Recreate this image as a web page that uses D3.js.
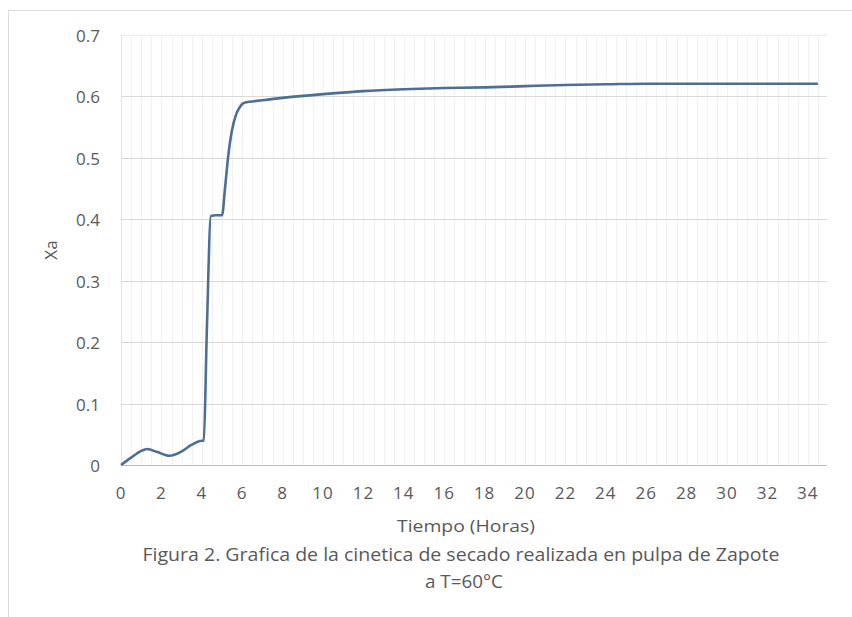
<!DOCTYPE html>
<html>
<head>
<meta charset="utf-8">
<script src="https://cdn.jsdelivr.net/npm/d3@7"></script>
<style>
  body { margin: 0; background: #fff; }
  text { font-family: "Open Sans", "Liberation Sans", sans-serif; }
</style>
</head>
<body>
<div id="chart"></div>
<script>
// Tiempo (horas)
const tiempo = [0, 0.5, 1, 1.3, 1.8, 2.4, 3, 3.5, 3.9, 4.1, 4.25, 4.45, 4.7, 5.0, 5.15, 5.3, 5.5, 5.7, 5.9, 6.1,
  7, 8, 10, 12, 14, 16, 18, 20, 22, 24, 26, 28, 30, 32, 34.5]
// Xa
const xa = [0, 0.012, 0.023, 0.026, 0.021, 0.015, 0.022, 0.033, 0.039, 0.04, 0.22, 0.405, 0.406, 0.406, 0.45, 0.5, 0.545, 0.57, 0.583, 0.589,
  0.593, 0.597, 0.603, 0.608, 0.611, 0.613, 0.614, 0.616, 0.618, 0.619, 0.62, 0.62, 0.62, 0.62, 0.62]

const xTicks = d3.range(0, 35, 2)
const yTicks = [0, 0.1, 0.2, 0.3, 0.4, 0.5, 0.6, 0.7]
const xTitle = "Tiempo (Horas)"
const yTitle = "Xa"
const caption = ["Figura 2. Grafica de la cinetica de secado realizada en pulpa de Zapote", "a T=60°C"]

const data = tiempo.map((t, i) => ({t: t, xa: xa[i]}))

drawChart(data, "#chart")

function drawChart(data, id){
    const canvas = {width: 852, height: 617}
    const svg = d3.select(id).append("svg").attr("width", canvas.width).attr("height", canvas.height)

    // outer frame
    svg.append("rect").attr("x", 8.5).attr("y", 10.5).attr("width", 860).attr("height", 620)
      .attr("fill", "none").attr("stroke", "#dcdcdc")

    const x = d3.scaleLinear().domain([0, 34.95]).range([121, 827])
    const y = d3.scaleLinear().domain([0, 0.7]).range([465, 34.5])

    // faint vertical grid
    svg.append("g").selectAll("line").data(d3.range(0.5, 35, 0.5)).enter().append("line")
      .attr("x1", d => Math.round(x(d)) + 0.5).attr("x2", d => Math.round(x(d)) + 0.5)
      .attr("y1", y(0.7)).attr("y2", y(0))
      .attr("stroke", "#f1f1f1").attr("stroke-width", 1)

    // horizontal grid
    svg.append("g").selectAll("line").data(yTicks.slice(1)).enter().append("line")
      .attr("x1", x(0)).attr("x2", x(34.95))
      .attr("y1", d => Math.round(y(d)) + 0.5).attr("y2", d => Math.round(y(d)) + 0.5)
      .attr("stroke", d => d === 0.7 ? "#ececec" : "#d9d9d9")

    // left edge & x axis line
    svg.append("line").attr("x1", x(0) + 0.5).attr("x2", x(0) + 0.5).attr("y1", y(0.7)).attr("y2", y(0))
      .attr("stroke", "#e3e3e3")
    svg.append("line").attr("x1", x(0)).attr("x2", x(34.95))
      .attr("y1", Math.round(y(0)) + 0.5).attr("y2", Math.round(y(0)) + 0.5)
      .attr("stroke", "#bfbfbf").attr("stroke-width", 1.2)

    // tick labels
    svg.append("g").selectAll("text").data(yTicks).enter().append("text")
      .attr("x", 100).attr("y", d => y(d) + 7)
      .attr("text-anchor", "end").attr("font-size", "17px").attr("fill", "#595959")
      .text(d => d3.format("")(d))

    svg.append("g").selectAll("text").data(xTicks).enter().append("text")
      .attr("x", d => x(d)).attr("y", 499)
      .attr("text-anchor", "middle").attr("font-size", "17px").attr("fill", "#595959")
      .attr("letter-spacing", "1px")
      .text(d => d)

    // line
    const line = d3.line().x(d => x(d.t)).y(d => y(d.xa)).curve(d3.curveMonotoneX)
    svg.append("path").datum(data).attr("fill", "none").attr("stroke", "#4d6f95")
      .attr("stroke-width", 2.6).attr("stroke-linejoin", "round").attr("d", line)

    // titles
    svg.append("text").attr("x", 466).attr("y", 532).attr("text-anchor", "middle")
      .attr("font-size", "17px").attr("fill", "#595959")
      .attr("textLength", 138).attr("lengthAdjust", "spacingAndGlyphs").text(xTitle)
    svg.append("text").attr("transform", "translate(57,250) rotate(-90)").attr("text-anchor", "middle")
      .attr("font-size", "17px").attr("fill", "#595959").text(yTitle)

    svg.append("g").selectAll("text").data(caption).enter().append("text")
      .attr("x", (d, i) => i === 0 ? 461 : 464).attr("y", (d, i) => 561 + i * 27).attr("text-anchor", "middle")
      .attr("font-size", "17.5px").attr("fill", "#595959")
      .attr("textLength", (d, i) => i === 0 ? 637 : 78)
      .attr("lengthAdjust", "spacingAndGlyphs")
      .text(d => d)
}
</script>
</body>
</html>
